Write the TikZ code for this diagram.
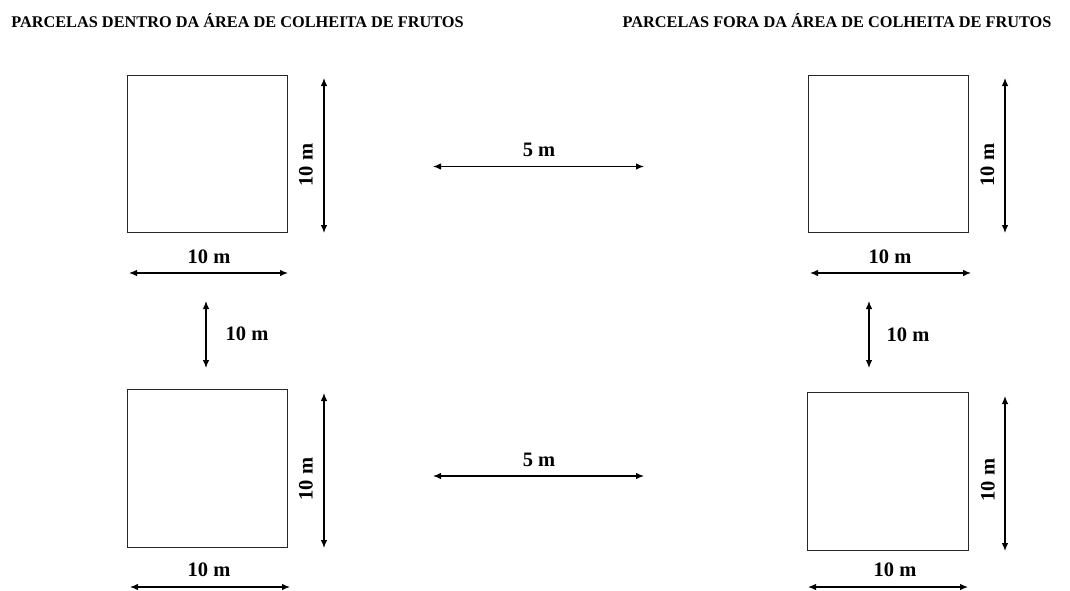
\documentclass[tikz,border=0pt]{standalone}
\usepackage{fontspec}
\setmainfont{Liberation Serif}
\usetikzlibrary{arrows.meta}
\begin{document}
\begin{tikzpicture}[x=1pt,y=-1pt,
  plot/.style={draw=black!85, line width=0.9pt, inner sep=0pt},
  dim/.style={line width=1.2pt, {Latex[length=8pt,width=6.5pt]}-{Latex[length=8pt,width=6.5pt]}},
  lbl/.style={font=\fontsize{20.5}{22}\selectfont\bfseries, inner sep=0pt},
  ttl/.style={font=\fontsize{16.3}{18}\selectfont\bfseries, inner sep=0pt}]
\useasboundingbox (0,0) rectangle (1070,590);

% titles
\node[ttl] (t1) at (237.5,20.8) {PARCELAS DENTRO DA ÁREA DE COLHEITA DE FRUTOS};
\node[ttl] (t2) at (837,20.8) {PARCELAS FORA DA ÁREA DE COLHEITA DE FRUTOS};

% plots
\node[plot, minimum width=160pt, minimum height=157pt] (p1) at (207,153.5) {};
\node[plot, minimum width=160pt, minimum height=157pt] (p2) at (888,153.5) {};
\node[plot, minimum width=160pt, minimum height=158pt] (p3) at (207,468) {};
\node[plot, minimum width=161pt, minimum height=158pt] (p4) at (887.5,471) {};

% dimension endpoints
\coordinate (v1a) at (324,78);   \coordinate (v1b) at (324,233);
\coordinate (h1a) at (129,273);  \coordinate (h1b) at (288,273);
\coordinate (v2a) at (1005,78);  \coordinate (v2b) at (1005,233);
\coordinate (h2a) at (810,273);  \coordinate (h2b) at (971,273);
\coordinate (v3a) at (324,393);  \coordinate (v3b) at (324,548);
\coordinate (h3a) at (130,587);  \coordinate (h3b) at (290,587);
\coordinate (v4a) at (1005,396); \coordinate (v4b) at (1005,551);
\coordinate (h4a) at (808,587);  \coordinate (h4b) at (968,587);
\coordinate (m1a) at (206,301);  \coordinate (m1b) at (206,368);
\coordinate (m2a) at (869,301);  \coordinate (m2b) at (869,368);
\coordinate (s1a) at (433,166.5); \coordinate (s1b) at (644,166.5);
\coordinate (s2a) at (433,476);  \coordinate (s2b) at (644,476);

\draw[dim] (v1a) -- (v1b);
\draw[dim] (h1a) -- (h1b);
\draw[dim] (v2a) -- (v2b);
\draw[dim] (h2a) -- (h2b);
\draw[dim] (v3a) -- (v3b);
\draw[dim] (h3a) -- (h3b);
\draw[dim] (v4a) -- (v4b);
\draw[dim] (h4a) -- (h4b);
\draw[dim] (m1a) -- (m1b);
\draw[dim] (m2a) -- (m2b);
\draw[dim] (s1a) -- (s1b);
\draw[dim] (s2a) -- (s2b);

% labels
\node[lbl, rotate=90] (l1) at (306,165) {10 m};
\node[lbl] (l2) at (209,257) {10 m};
\node[lbl, rotate=90] (l3) at (987.5,165) {10 m};
\node[lbl] (l4) at (890,257) {10 m};
\node[lbl, rotate=90] (l5) at (306,479) {10 m};
\node[lbl] (l6) at (209,570) {10 m};
\node[lbl, rotate=90] (l7) at (988,480) {10 m};
\node[lbl] (l8) at (895,570) {10 m};
\node[lbl] (l9) at (247,334) {10 m};
\node[lbl] (l10) at (908,335) {10 m};
\node[lbl] (l11) at (539,150) {5 m};
\node[lbl] (l12) at (539,460) {5 m};
\end{tikzpicture}
\end{document}
